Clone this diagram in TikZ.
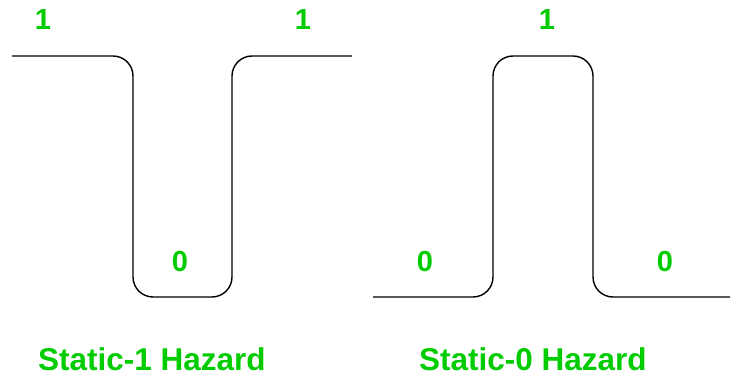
\documentclass[tikz,border=0pt]{standalone}
\usepackage{fontspec}
\setmainfont{Liberation Sans}
\definecolor{hzgreen}{RGB}{0,204,0}
\tikzset{
  wave/.style={draw=black, line width=1.4pt, rounded corners=20pt},
  lvl/.style={text=hzgreen, font=\bfseries\fontsize{29}{32}\selectfont, inner sep=0pt, anchor=center},
  caption/.style={text=hzgreen, font=\bfseries\fontsize{31.5}{36}\selectfont, inner sep=0pt, anchor=center}
}
\begin{document}
\begin{tikzpicture}[x=1pt, y=-1pt]
\useasboundingbox (0,0) rectangle (732,382);
% Static-1 hazard waveform
\draw[wave] (12,56) -- (133,56) -- (133,297) -- (232,297) -- (232,56) -- (352,56);
% Static-0 hazard waveform
\draw[wave] (373,297) -- (493,297) -- (493,56) -- (593,56) -- (593,297) -- (730,297);
% level labels
\node[lvl] (a1) at (43,20) {1};
\node[lvl] (a2) at (303,20) {1};
\node[lvl] (a0) at (180,262) {0};
\node[lvl] (b0) at (425,262) {0};
\node[lvl] (b1) at (547,20) {1};
\node[lvl] (b2) at (665,262) {0};
% captions
\node[caption] (c1) at (152,359.5) {Static-1 Hazard};
\node[caption] (c2) at (533,359.5) {Static-0 Hazard};
\end{tikzpicture}
\end{document}
